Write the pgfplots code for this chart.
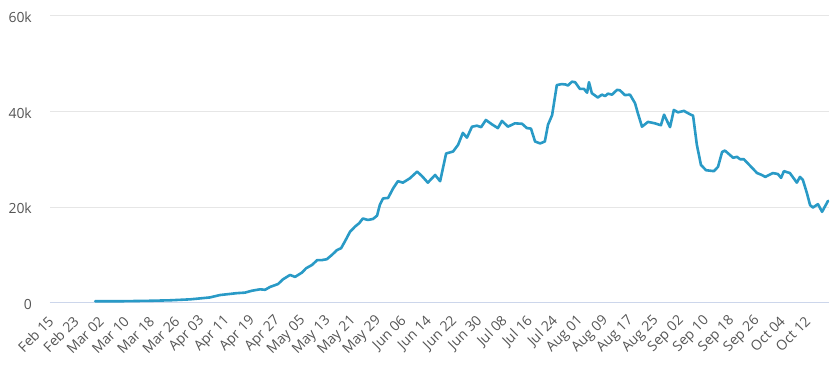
\documentclass[border=0pt]{standalone}
\usepackage{fontspec}
\setmainfont{Open Sans}
\usepackage{pgfplots}
\pgfplotsset{compat=1.18}
\definecolor{linecol}{RGB}{41,154,198}
\definecolor{gridcol}{RGB}{230,230,230}
\definecolor{axcol}{RGB}{204,214,235}
\definecolor{labcol}{RGB}{85,85,85}
\begin{document}
\begin{tikzpicture}
\begin{axis}[
  scale only axis,
  width=779bp, height=287bp,
  xmin=0, xmax=247,
  ymin=0, ymax=60,
  axis line style={draw=none},
  ymajorgrids, grid style={gridcol, line width=1bp},
  major tick length=0pt,
  ytick={0,20,40,60},
  yticklabels={0,20k,40k,60k},
  xtick={0,8,...,240},
  xticklabels={Feb 15,Feb 23,Mar 02,Mar 10,Mar 18,Mar 26,Apr 03,Apr 11,Apr 19,Apr 27,May 05,May 13,May 21,May 29,Jun 06,Jun 14,Jun 22,Jun 30,Jul 08,Jul 16,Jul 24,Aug 01,Aug 09,Aug 17,Aug 25,Sep 02,Sep 10,Sep 18,Sep 26,Oct 04,Oct 12},
  /pgf/number format/assume math mode=true,
  tick label style={font=\fontsize{14}{16}\selectfont, text=labcol},
  yticklabel style={anchor=east, inner sep=0pt, xshift=-18bp, yshift=-1.5bp},
  xticklabel style={yshift=-16bp, xshift=1bp, rotate=45, anchor=east, inner sep=0pt},
  clip=false,
]
\draw[axcol, line width=1bp] (axis cs:0,0) -- (axis cs:247,0);
\addplot[linecol, line width=2.6bp, line join=round, line cap=round] coordinates {
(14.3,0.3)(22.2,0.3)(31.7,0.4)(38.0,0.5)(44.4,0.7)(47.6,0.9)(50.7,1.1)(53.9,1.6)
(59.3,2.0)(61.8,2.1)(64.0,2.5)(66.6,2.8)(68.2,2.7)(69.8,3.3)(72.3,3.9)(73.9,4.9)
(76.1,5.8)(77.7,5.4)(79.9,6.3)(81.2,7.2)(83.1,7.9)(84.7,8.9)(86.2,8.9)(87.8,9.1)
(89.4,10.0)(91.0,11.0)(92.3,11.4)(93.5,12.8)(95.1,14.8)(96.7,15.9)(98.0,16.6)(99.2,17.6)
(100.8,17.3)(102.4,17.5)(103.7,18.2)(104.6,20.5)(105.6,21.8)(107.2,21.9)(108.8,23.9)(110.3,25.4)
(111.9,25.1)(114.1,26.0)(116.4,27.4)(117.9,26.5)(119.8,25.1)(122.1,26.7)(123.7,25.4)(125.6,31.2)
(127.8,31.6)(129.4,33.0)(130.9,35.5)(132.2,34.5)(133.8,36.8)(135.4,37.0)(136.7,36.7)(138.2,38.2)
(140.1,37.3)(142.0,36.5)(143.3,38.0)(145.2,36.8)(147.4,37.5)(149.7,37.4)(151.2,36.5)(152.5,36.4)
(153.8,33.7)(155.4,33.3)(156.9,33.7)(157.9,37.2)(159.2,39.2)(160.7,45.5)(162.3,45.7)(163.6,45.6)
(164.2,45.4)(165.5,46.2)(166.5,46.1)(168.0,44.7)(169.3,44.7)(170.3,43.9)(170.9,46.1)(171.8,43.8)
(173.7,42.9)(175.0,43.5)(176.0,43.2)(176.9,43.7)(178.2,43.5)(179.8,44.5)(180.7,44.4)(182.3,43.4)
(183.9,43.5)(185.5,41.7)(186.4,39.6)(187.7,36.8)(189.6,37.8)(191.8,37.5)(193.7,37.1)(194.7,39.3)
(196.6,36.7)(197.8,40.3)(199.1,39.8)(201.0,40.1)(202.9,39.4)(203.9,39.1)(205.1,33.0)(206.4,28.8)
(208.0,27.7)(210.5,27.5)(211.8,28.4)(213.1,31.5)(214.0,31.8)(216.6,30.3)(217.8,30.5)(218.8,30.0)
(220.0,30.0)(221.3,29.1)(224.2,27.1)(225.7,26.7)(226.8,26.3)(229.2,27.1)(230.8,26.9)(231.8,26.1)
(232.7,27.5)(234.6,27.1)(236.8,25.1)(237.8,26.3)(238.7,25.7)(240.0,22.9)(241.0,20.4)(241.9,19.9)
(243.5,20.6)(244.8,19.0)(246.7,21.3)
};
\end{axis}
\pgfresetboundingbox
\path (-50bp,-62.3bp) rectangle (789bp,302.7bp);
\end{tikzpicture}
\end{document}
